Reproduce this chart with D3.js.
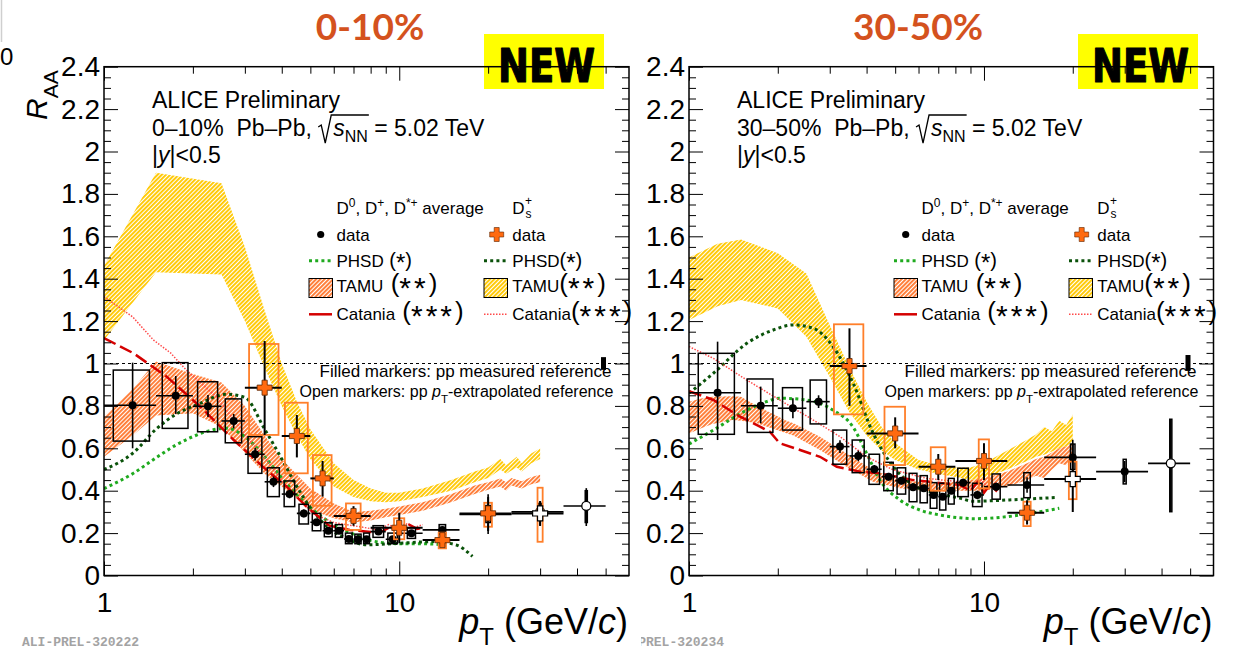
<!DOCTYPE html>
<html>
<head>
<meta charset="utf-8">
<script src="https://cdn.jsdelivr.net/npm/d3@7/dist/d3.min.js"></script>
<style>
  html, body { margin: 0; padding: 0; background: #fff; }
  svg { display: block; }
  text { white-space: pre; }
</style>
</head>
<body>
<script>
// ---------------- data ----------------
const titles = ["0-10%", "30-50%"];
const centralityText = ["0\u201310%", "30\u201350%"];
const preliminaryIds = ["ALI-PREL-320222", "ALI-PREL-320234"];
const yTickValues = [0, 0.2, 0.4, 0.6, 0.8, 1, 1.2, 1.4, 1.6, 1.8, 2, 2.2, 2.4];
const yTickLabels = ["0", "0.2", "0.4", "0.6", "0.8", "1", "1.2", "1.4", "1.6", "1.8", "2", "2.2", "2.4"];
const xTickValues = [1, 10];
const xTickLabels = ["1", "10"];
const xMinorValues = [2, 3, 4, 5, 6, 7, 8, 9, 20, 30, 40, 50];
const xDomain = [1, 60];
const yDomain = [0, 2.4];

// rows: [ptLo, ptHi, R_AA, statLo, statHi, systLo, systHi, openMarker]
const dAvg010 = [
  [1, 1.5, 0.803, 0.60, 1.004, 0.634, 0.969, 0],
  [1.5, 2, 0.848, 0.762, 0.941, 0.694, 1.004, 0],
  [2, 2.5, 0.798, 0.748, 0.851, 0.678, 0.914, 0],
  [2.5, 3, 0.729, 0.694, 0.762, 0.626, 0.833, 0],
  [3, 3.5, 0.572, 0.542, 0.602, 0.482, 0.655, 0],
  [3.5, 4, 0.442, 0.417, 0.467, 0.372, 0.508, 0],
  [4, 4.5, 0.384, 0.364, 0.404, 0.325, 0.446, 0],
  [4.5, 5, 0.293, 0.275, 0.311, 0.243, 0.336, 0],
  [5, 5.5, 0.251, 0.235, 0.267, 0.211, 0.293, 0],
  [5.5, 6, 0.211, 0.197, 0.225, 0.183, 0.249, 0],
  [6, 6.5, 0.211, 0.197, 0.225, 0.18, 0.24, 0],
  [6.5, 7, 0.172, 0.16, 0.184, 0.15, 0.20, 0],
  [7, 7.5, 0.171, 0.16, 0.182, 0.15, 0.195, 0],
  [7.5, 8, 0.171, 0.16, 0.182, 0.15, 0.20, 0],
  [8, 9, 0.207, 0.195, 0.219, 0.18, 0.235, 0],
  [9, 10, 0.171, 0.158, 0.184, 0.15, 0.20, 0],
  [10, 12, 0.199, 0.186, 0.212, 0.175, 0.225, 0],
  [12, 16, 0.215, 0.20, 0.23, 0.195, 0.24, 0],
  [16, 24, 0.288, 0.196, 0.383, 0.25, 0.33, 0],
  [24, 36, 0.30, 0.234, 0.352, 0.26, 0.34, 1],
  [36, 50, 0.328, 0.234, 0.412, 0.25, 0.40, 1]
];
const ds010 = [
  [3, 4, 0.886, 0.663, 1.106, 0.663, 1.092, 0],
  [4, 5, 0.658, 0.557, 0.757, 0.482, 0.815, 0],
  [5, 6, 0.458, 0.372, 0.54, 0.329, 0.568, 0],
  [6, 8, 0.281, 0.235, 0.327, 0.215, 0.34, 0],
  [8, 12, 0.225, 0.152, 0.296, 0.171, 0.27, 0],
  [12, 16, 0.167, 0.135, 0.20, 0.128, 0.202, 0],
  [16, 24, 0.293, 0.21, 0.37, 0.23, 0.343, 0],
  [24, 36, 0.293, 0.235, 0.351, 0.159, 0.414, 1]
];
const dAvg3050 = [
  [1, 1.5, 0.862, 0.639, 1.103, 0.666, 1.048, 0],
  [1.5, 2, 0.801, 0.718, 0.891, 0.675, 0.927, 0],
  [2, 2.5, 0.789, 0.742, 0.836, 0.686, 0.886, 0],
  [2.5, 3, 0.82, 0.79, 0.85, 0.715, 0.922, 0],
  [3, 3.5, 0.608, 0.578, 0.638, 0.525, 0.686, 0],
  [3.5, 4, 0.564, 0.539, 0.589, 0.485, 0.639, 0],
  [4, 4.5, 0.501, 0.481, 0.521, 0.43, 0.572, 0],
  [4.5, 5, 0.466, 0.448, 0.484, 0.40, 0.534, 0],
  [5, 5.5, 0.447, 0.43, 0.464, 0.384, 0.508, 0],
  [5.5, 6, 0.416, 0.40, 0.432, 0.348, 0.482, 0],
  [6, 6.5, 0.411, 0.395, 0.427, 0.343, 0.471, 0],
  [6.5, 7, 0.38, 0.365, 0.395, 0.317, 0.438, 0],
  [7, 7.5, 0.372, 0.357, 0.387, 0.309, 0.435, 0],
  [7.5, 8, 0.40, 0.384, 0.416, 0.337, 0.458, 0],
  [8, 9, 0.438, 0.42, 0.456, 0.372, 0.506, 0],
  [9, 10, 0.38, 0.36, 0.40, 0.325, 0.435, 0],
  [10, 12, 0.419, 0.40, 0.438, 0.36, 0.479, 0],
  [12, 16, 0.427, 0.39, 0.464, 0.367, 0.485, 0],
  [16, 24, 0.557, 0.47, 0.64, 0.50, 0.62, 0],
  [24, 36, 0.49, 0.44, 0.54, 0.432, 0.548, 0],
  [36, 50, 0.529, 0.301, 0.737, 0.301, 0.737, 1]
];
const ds3050 = [
  [3, 4, 0.988, 0.80, 1.166, 0.76, 1.185, 0],
  [4, 6, 0.67, 0.60, 0.746, 0.521, 0.796, 0],
  [6, 8, 0.513, 0.45, 0.573, 0.40, 0.605, 0],
  [8, 12, 0.54, 0.45, 0.624, 0.411, 0.642, 0],
  [12, 16, 0.296, 0.24, 0.355, 0.233, 0.348, 0],
  [16, 24, 0.455, 0.30, 0.62, 0.36, 0.537, 1]
];

// model bands: [pt, low, high]
const tamuD010 = [
  [1.0, 0.56, 0.75], [1.25, 0.66, 0.88], [1.5, 0.755, 1.01], [2.0, 0.765, 0.95], [2.5, 0.70, 0.91],
  [3.0, 0.58, 0.80], [3.5, 0.48, 0.66], [4.0, 0.42, 0.55], [5.0, 0.31, 0.41], [6.0, 0.27, 0.34],
  [7.0, 0.25, 0.30], [8.0, 0.26, 0.305], [9, 0.275, 0.315], [10, 0.285, 0.325], [12, 0.305, 0.345],
  [15, 0.345, 0.385], [18, 0.385, 0.425], [20, 0.405, 0.44], [22, 0.42, 0.458], [23, 0.40, 0.44],
  [24, 0.425, 0.46], [26, 0.41, 0.445], [28, 0.43, 0.465], [30, 0.44, 0.475]
];
const tamuDs010 = [
  [1.0, 1.11, 1.46], [1.5, 1.43, 1.90], [2.5, 1.42, 1.85], [3.0, 1.20, 1.55], [3.5, 0.98, 1.25],
  [4.0, 0.80, 1.0], [4.5, 0.66, 0.82], [5.0, 0.55, 0.69], [6.0, 0.42, 0.53], [7.0, 0.37, 0.45],
  [8.0, 0.35, 0.41], [9, 0.345, 0.39], [10, 0.35, 0.39], [12, 0.37, 0.41], [15, 0.40, 0.45],
  [18, 0.44, 0.49], [20, 0.46, 0.51], [22, 0.50, 0.55], [23, 0.48, 0.52], [25, 0.51, 0.56],
  [26, 0.49, 0.53], [28, 0.53, 0.575], [30, 0.55, 0.60]
];
const tamuD3050 = [
  [1.0, 0.67, 0.82], [1.1, 0.695, 0.835], [1.2, 0.715, 0.843], [1.4, 0.733, 0.845], [1.5, 0.73, 0.843],
  [1.7, 0.718, 0.80], [2.14, 0.671, 0.73], [2.26, 0.66, 0.718], [2.78, 0.592, 0.655], [3.42, 0.513, 0.576],
  [4.21, 0.442, 0.498], [5.19, 0.411, 0.45], [6.72, 0.395, 0.435], [8.27, 0.40, 0.442], [10, 0.40, 0.46],
  [12, 0.42, 0.49], [14, 0.45, 0.53], [15, 0.47, 0.55], [16, 0.46, 0.56], [17, 0.50, 0.58],
  [18, 0.53, 0.60], [19, 0.52, 0.61], [20, 0.55, 0.62]
];
const tamuDs3050 = [
  [1.0, 1.205, 1.50], [1.25, 1.27, 1.565], [1.5, 1.30, 1.585], [2.0, 1.26, 1.52], [2.5, 1.126, 1.425],
  [3.0, 0.938, 1.18], [3.5, 0.77, 0.98], [4.0, 0.66, 0.82], [4.5, 0.59, 0.70], [5.0, 0.545, 0.625],
  [6.0, 0.50, 0.545], [7.0, 0.48, 0.52], [8.0, 0.465, 0.51], [9, 0.45, 0.51], [10, 0.46, 0.53],
  [12, 0.50, 0.59], [14, 0.54, 0.64], [15, 0.56, 0.665], [16, 0.57, 0.70], [17, 0.585, 0.68],
  [18, 0.60, 0.73], [19, 0.61, 0.71], [20, 0.625, 0.76]
];

// model curves: [pt, R_AA]
const phsdD010 = [
  [1.0, 0.41], [1.25, 0.48], [1.5, 0.555], [1.75, 0.615], [2.0, 0.655], [2.3, 0.685], [2.6, 0.695],
  [3.0, 0.655], [3.5, 0.56], [4.0, 0.46], [4.5, 0.38], [5.0, 0.32], [6.0, 0.24], [7.0, 0.195],
  [8.0, 0.165], [10, 0.15], [12, 0.15], [14, 0.145]
];
const phsdDs010 = [
  [1.0, 0.50], [1.25, 0.576], [1.5, 0.69], [1.75, 0.76], [2.1, 0.81], [2.6, 0.855], [3.0, 0.84],
  [3.5, 0.69], [4.0, 0.55], [4.5, 0.42], [5.0, 0.32], [5.7, 0.23], [6.5, 0.18], [7.75, 0.145],
  [10, 0.152], [13, 0.16], [15.6, 0.144], [17.7, 0.09]
];
const catD010 = [
  [1.0, 1.12], [1.26, 1.048], [1.63, 0.938], [2.12, 0.796], [2.75, 0.639], [3.55, 0.498], [4.16, 0.419],
  [4.85, 0.325], [5.8, 0.235], [6.8, 0.215], [8.0, 0.205], [8.8, 0.21], [9.5, 0.235], [10, 0.215],
  [10.8, 0.24], [11.5, 0.22], [12, 0.225]
];
const catDs010 = [
  [1.0, 1.315], [1.25, 1.22], [1.47, 1.111], [1.68, 1.05], [1.9, 0.969], [2.4, 0.843], [3.04, 0.655],
  [3.55, 0.545], [4.15, 0.419], [5.1, 0.293], [6.0, 0.25], [7.35, 0.23], [8.5, 0.215], [9.2, 0.24],
  [9.8, 0.22], [10.5, 0.245], [11.2, 0.225], [12, 0.24]
];
const phsdD3050 = [
  [1.0, 0.62], [1.21, 0.686], [1.57, 0.78], [1.83, 0.82], [2.03, 0.836], [2.5, 0.828], [3.08, 0.78],
  [3.6, 0.70], [4.0, 0.576], [4.44, 0.45], [5.19, 0.356], [6.06, 0.309], [7.1, 0.285], [8.27, 0.272],
  [9.22, 0.268], [11.9, 0.277], [15.5, 0.301], [18, 0.317]
];
const phsdDs3050 = [
  [1.0, 0.86], [1.21, 0.954], [1.57, 1.095], [1.93, 1.158], [2.26, 1.182], [2.64, 1.166], [3.08, 1.079],
  [3.6, 0.907], [4.21, 0.671], [4.93, 0.513], [5.76, 0.427], [7.1, 0.385], [8.27, 0.365], [9.22, 0.35],
  [11.9, 0.356], [15.5, 0.364], [17.7, 0.368]
];
const catD3050 = [
  [1.0, 0.87], [1.21, 0.828], [1.49, 0.749], [1.74, 0.702], [1.88, 0.678], [2.03, 0.624], [2.38, 0.592],
  [2.78, 0.56], [3.17, 0.513], [3.8, 0.49], [4.44, 0.482], [5.76, 0.45], [8.27, 0.427], [9.0, 0.40],
  [9.5, 0.44], [10, 0.39], [10.5, 0.43], [11, 0.40], [11.3, 0.42]
];
const catDs3050 = [
  [1.0, 1.08], [1.21, 1.024], [1.57, 0.922], [2.03, 0.828], [2.64, 0.733], [3.25, 0.655], [4.0, 0.56],
  [4.93, 0.498], [6.4, 0.458], [8.27, 0.442], [9.2, 0.42], [9.8, 0.45], [10.4, 0.41], [11, 0.44]
];

// global normalisation uncertainty around unity: [low, high]
const norm010 = [0.97, 1.03];
const norm3050 = [0.965, 1.04];

// ---------------- drawing ----------------
const FONT = "'Liberation Sans', Arial, Helvetica, sans-serif";
const C = {
  title: "#d4521e", orangeHatch: "#ff7a33", yellowHatch: "#ffc800",
  dsFill: "#ff6a10", dsBox: "#ff7f2a", phsdD: "#1faa1f", phsdDs: "#0a520a",
  catD: "#d40000", catDs: "#ff4a4a"
};

const svg = d3.select("body").append("svg").attr("width", 1235).attr("height", 649);
svg.append("rect").attr("width", 1235).attr("height", 649).attr("fill", "#fff");
const defs = svg.append("defs");

function hatch(id, color) {
  const p = defs.append("pattern").attr("id", id).attr("patternUnits", "userSpaceOnUse")
    .attr("width", 3).attr("height", 3).attr("patternTransform", "rotate(45)");
  p.append("rect").attr("width", 1.9).attr("height", 3).attr("fill", color);
}
hatch("hatchOrange", C.orangeHatch);
hatch("hatchYellow", C.yellowHatch);

function rich(g, x, y, runs, anchor) {
  const t = g.append("text").attr("x", x).attr("y", y).attr("font-family", FONT).attr("fill", "#000");
  if (anchor) t.attr("text-anchor", anchor);
  let shift = 0;
  runs.forEach(r => {
    const s = t.append("tspan").text(r.t).attr("font-size", r.size);
    const target = r.sh || 0;
    if (target !== shift) { s.attr("dy", target - shift); shift = target; }
    if (r.it) s.attr("font-style", "italic");
    if (r.fam) s.attr("font-family", r.fam);
    if (r.dx) s.attr("dx", r.dx);
    if (r.ls) s.attr("letter-spacing", r.ls);
  });
  return t;
}

function crossPath(a, t) {
  return `M${-t},${-a}H${t}V${-t}H${a}V${t}H${t}V${a}H${-t}V${t}H${-a}V${-t}H${-t}Z`;
}

// stray edge of the neighbouring slide
svg.append("line").attr("x1", 1.5).attr("x2", 1.5).attr("y1", 0).attr("y2", 42)
  .attr("stroke", "#cfcfcf").attr("stroke-width", 1.5);
svg.append("text").attr("x", 0).attr("y", 65).attr("font-family", FONT).attr("font-size", 24).text("0");

const panels = [
  { x0: 104, x1: 629, titleX: 370, newX: 484, idX: 22, clipId: null,
    title: titles[0], cent: centralityText[0], pid: preliminaryIds[0],
    d: dAvg010, ds: ds010, bandD: tamuD010, bandDs: tamuDs010,
    phsdD: phsdD010, phsdDs: phsdDs010, catD: catD010, catDs: catDs010, norm: norm010, yTitle: true },
  { x0: 689, x1: 1213.5, titleX: 918, newX: 1078, idX: 607, clipId: "idClip",
    title: titles[1], cent: centralityText[1], pid: preliminaryIds[1],
    d: dAvg3050, ds: ds3050, bandD: tamuD3050, bandDs: tamuDs3050,
    phsdD: phsdD3050, phsdDs: phsdDs3050, catD: catD3050, catDs: catDs3050, norm: norm3050, yTitle: false }
];

defs.append("clipPath").attr("id", "idClip").append("rect")
  .attr("x", 641).attr("y", 600).attr("width", 600).attr("height", 60);

const yTop = 66.7, yBot = 575.5;

panels.forEach((p, pi) => {
  const g = svg.append("g");
  const x = d3.scaleLog().domain(xDomain).range([p.x0, p.x1]);
  const y = d3.scaleLinear().domain(yDomain).range([yBot, yTop]);

  const clipName = "frameClip" + pi;
  defs.append("clipPath").attr("id", clipName).append("rect")
    .attr("x", p.x0).attr("y", yTop).attr("width", p.x1 - p.x0).attr("height", yBot - yTop);
  const plot = g.append("g").attr("clip-path", `url(#${clipName})`);

  // title and badge
  g.append("text").attr("x", p.titleX).attr("y", 40).attr("text-anchor", "middle")
    .attr("font-family", "Lato, 'Open Sans', sans-serif").attr("font-weight", 700)
    .attr("font-size", 37).attr("fill", C.title).text(p.title);
  g.append("rect").attr("x", p.newX).attr("y", 34).attr("width", 120).attr("height", 55).attr("fill", "#ffff00");
  g.append("text").attr("x", p.newX + 14).attr("y", 82)
    .attr("font-family", "'DejaVu Sans', sans-serif").attr("font-weight", 700).attr("font-size", 46)
    .attr("textLength", 97).attr("lengthAdjust", "spacingAndGlyphs")
    .attr("stroke", "#000").attr("stroke-width", 1.2).attr("stroke-linejoin", "round")
    .attr("fill", "#000").text("NEW");

  // model bands
  const area = d3.area().x(d => x(d[0])).y0(d => y(d[1])).y1(d => y(d[2]));
  plot.append("path").datum(p.bandD).attr("d", area).attr("fill", "url(#hatchOrange)");
  plot.append("path").datum(p.bandDs).attr("d", area).attr("fill", "url(#hatchYellow)");

  // model curves
  const smooth = d3.line().x(d => x(d[0])).y(d => y(d[1])).curve(d3.curveMonotoneX);
  const straight = d3.line().x(d => x(d[0])).y(d => y(d[1]));
  plot.append("path").datum(p.phsdD).attr("d", smooth).attr("fill", "none")
    .attr("stroke", C.phsdD).attr("stroke-width", 3).attr("stroke-dasharray", "3 3.2");
  plot.append("path").datum(p.phsdDs).attr("d", smooth).attr("fill", "none")
    .attr("stroke", C.phsdDs).attr("stroke-width", 3).attr("stroke-dasharray", "3 3.2");
  plot.append("path").datum(p.catDs).attr("d", straight).attr("fill", "none")
    .attr("stroke", C.catDs).attr("stroke-width", 1.5).attr("stroke-dasharray", "1.5 1.5");
  plot.append("path").datum(p.catD).attr("d", straight).attr("fill", "none")
    .attr("stroke", C.catD).attr("stroke-width", 2.5).attr("stroke-dasharray", "13 5");

  // unity reference
  g.append("line").attr("x1", p.x0).attr("x2", p.x1).attr("y1", y(1)).attr("y2", y(1))
    .attr("stroke", "#000").attr("stroke-width", 1).attr("stroke-dasharray", "3 3");
  g.append("rect").attr("x", p.x1 - 28).attr("y", y(p.norm[1])).attr("width", 5)
    .attr("height", y(p.norm[0]) - y(p.norm[1])).attr("fill", "#000");

  // D-meson average and Ds data
  const dHalf = r => Math.min(0.35 * (r[1] - r[0]), 0.35);
  const dsHalf = r => (r[1] - r[0]) >= 8 ? 0.6 : 0.4;
  const mid = r => (r[0] + r[1]) / 2;

  const dg = plot.append("g");
  p.d.forEach(r => {
    const c = mid(r), h = dHalf(r);
    dg.append("rect").attr("x", x(c - h)).attr("y", y(r[6]))
      .attr("width", x(c + h) - x(c - h)).attr("height", y(r[5]) - y(r[6]))
      .attr("fill", "none").attr("stroke", "#000").attr("stroke-width", 1.5);
  });
  const dsg = plot.append("g");
  p.ds.forEach(r => {
    const c = mid(r), h = dsHalf(r);
    dsg.append("rect").attr("x", x(c - h)).attr("y", y(r[6]))
      .attr("width", x(c + h) - x(c - h)).attr("height", y(r[5]) - y(r[6]))
      .attr("fill", "none").attr("stroke", C.dsBox).attr("stroke-width", 1.8);
  });
  p.d.forEach(r => {
    const c = mid(r);
    dg.append("line").attr("x1", x(c)).attr("x2", x(c)).attr("y1", y(r[3])).attr("y2", y(r[4]))
      .attr("stroke", "#000").attr("stroke-width", 1.6);
    dg.append("line").attr("x1", x(r[0])).attr("x2", x(r[1])).attr("y1", y(r[2])).attr("y2", y(r[2]))
      .attr("stroke", "#000").attr("stroke-width", 1.6);
    dg.append("circle").attr("cx", x(c)).attr("cy", y(r[2])).attr("r", r[7] ? 4.5 : 4)
      .attr("fill", r[7] ? "#fff" : "#000").attr("stroke", "#000").attr("stroke-width", r[7] ? 1.3 : 0);
  });
  p.ds.forEach(r => {
    const c = mid(r);
    dsg.append("line").attr("x1", x(c)).attr("x2", x(c)).attr("y1", y(r[3])).attr("y2", y(r[4]))
      .attr("stroke", "#000").attr("stroke-width", 2);
    dsg.append("line").attr("x1", x(r[0])).attr("x2", x(r[1])).attr("y1", y(r[2])).attr("y2", y(r[2]))
      .attr("stroke", "#000").attr("stroke-width", 2);
    dsg.append("path").attr("d", crossPath(7.5, 2.6))
      .attr("transform", `translate(${x(c)},${y(r[2])})`)
      .attr("fill", r[7] ? "#fff" : C.dsFill).attr("stroke", r[7] ? "#000" : "#5a2400")
      .attr("stroke-width", r[7] ? 1.2 : 0.8);
  });

  // axes: major and minor ticks on all four sides
  const styleAxis = a => a.attr("font-family", FONT).attr("font-size", 28)
    .call(s => s.select(".domain").remove())
    .call(s => s.selectAll("line").attr("stroke", "#000"))
    .call(s => s.selectAll("text").attr("fill", "#000"));
  const yMinor = d3.range(0, 49).map(i => i * 0.05).filter(v => Math.abs(v / 0.2 - Math.round(v / 0.2)) > 1e-6);
  g.append("g").attr("transform", `translate(${p.x0},0)`)
    .call(d3.axisLeft(y).tickValues(yTickValues).tickSize(-14).tickPadding(4)
      .tickFormat((d, i) => yTickLabels[i])).call(styleAxis);
  g.append("g").attr("transform", `translate(${p.x0},0)`)
    .call(d3.axisLeft(y).tickValues(yMinor).tickSize(-7).tickFormat(() => "")).call(styleAxis);
  g.append("g").attr("transform", `translate(${p.x1},0)`)
    .call(d3.axisRight(y).tickValues(yTickValues).tickSize(-14).tickFormat(() => "")).call(styleAxis);
  g.append("g").attr("transform", `translate(${p.x1},0)`)
    .call(d3.axisRight(y).tickValues(yMinor).tickSize(-7).tickFormat(() => "")).call(styleAxis);
  g.append("g").attr("transform", `translate(0,${yBot})`)
    .call(d3.axisBottom(x).tickValues(xTickValues).tickSize(-14).tickPadding(17)
      .tickFormat((d, i) => xTickLabels[i])).call(styleAxis);
  g.append("g").attr("transform", `translate(0,${yBot})`)
    .call(d3.axisBottom(x).tickValues(xMinorValues).tickSize(-7).tickFormat(() => "")).call(styleAxis);
  g.append("g").attr("transform", `translate(0,${yTop})`)
    .call(d3.axisTop(x).tickValues(xTickValues).tickSize(-14).tickFormat(() => "")).call(styleAxis);
  g.append("g").attr("transform", `translate(0,${yTop})`)
    .call(d3.axisTop(x).tickValues(xMinorValues).tickSize(-7).tickFormat(() => "")).call(styleAxis);
  g.append("rect").attr("x", p.x0).attr("y", yTop).attr("width", p.x1 - p.x0).attr("height", yBot - yTop)
    .attr("fill", "none").attr("stroke", "#000").attr("stroke-width", 1.5);

  // axis titles
  rich(g, p.x1 - 1, 634, [
    { t: "p", size: 36, it: true }, { t: "T", size: 24, sh: 11 },
    { t: " (GeV/", size: 36, sh: 0 }, { t: "c", size: 36, it: true }, { t: ")", size: 36 }
  ], "end");
  if (p.yTitle) {
    const yt = g.append("g").attr("transform", "translate(47,120) rotate(-90)");
    rich(yt, 0, 0, [{ t: "R", size: 30, it: true }, { t: "AA", size: 21, sh: 11 }]);
  }

  // header text
  const tx = p.x0 + 48;
  rich(g, tx, 108, [{ t: "ALICE Preliminary", size: 23 }]);
  const line2 = p.cent + "  Pb\u2013Pb, ";
  const t2 = rich(g, tx, 136, [
    { t: line2, size: 23 }, { t: "s", size: 23, it: true, dx: 15 },
    { t: "NN", size: 16, sh: 6 }, { t: " = 5.02 TeV", size: 23, sh: 0 }
  ]);
  const n2 = t2.node();
  const xs = n2.getStartPositionOfChar(line2.length).x;
  const xe = n2.getEndPositionOfChar(line2.length + 2).x;
  g.append("path").attr("d", `M${xs - 15},127 L${xs - 12},125 L${xs - 8},143 L${xs - 2},115 L${xe + 1},115`)
    .attr("fill", "none").attr("stroke", "#000").attr("stroke-width", 1.3);
  rich(g, tx, 163, [{ t: "|", size: 23 }, { t: "y", size: 23, it: true }, { t: "|<0.5", size: 23 }]);

  // legend
  const c1 = p.x0 + 232.5, c2 = p.x0 + 408.3;
  rich(g, c1, 214, [
    { t: "D", size: 17 }, { t: "0", size: 12, sh: -7 }, { t: ", D", size: 17, sh: 0 },
    { t: "+", size: 12, sh: -7 }, { t: ", D", size: 17, sh: 0 }, { t: "*+", size: 12, sh: -7 },
    { t: " average", size: 17, sh: 0 }
  ]);
  const dsH = rich(g, c2, 214, [{ t: "D", size: 17 }]);
  const dw = dsH.node().getComputedTextLength();
  g.append("text").attr("x", c2 + dw + 0.5).attr("y", 205).attr("font-family", FONT).attr("font-size", 12).text("+");
  g.append("text").attr("x", c2 + dw + 1).attr("y", 218).attr("font-family", FONT).attr("font-size", 12).text("s");

  const rows = [240.7, 266.5, 292, 320];
  rich(g, c1, rows[0], [{ t: "data", size: 17 }]);
  rich(g, c2, rows[0], [{ t: "data", size: 17 }]);
  g.append("circle").attr("cx", p.x0 + 216.7).attr("cy", 234.5).attr("r", 3.6).attr("fill", "#000");
  g.append("path").attr("d", crossPath(7, 2.5)).attr("transform", `translate(${p.x0 + 392.7},234.5)`)
    .attr("fill", C.dsFill).attr("stroke", "#5a2400").attr("stroke-width", 0.6);

  const star1 = (lbl, gap) => [{ t: lbl, size: 17 }, { t: gap + "(", size: 20 }, { t: "*", size: 24, sh: 4 }, { t: ")", size: 20, sh: 0 }];
  const star2 = (lbl, gap, n) => [{ t: lbl, size: 17 }, { t: gap + "(", size: 26 }, { t: "*".repeat(n), size: 30, sh: 6, ls: 3 }, { t: ")", size: 26, sh: 0 }];
  rich(g, c1, rows[1], star1("PHSD", " "));
  rich(g, c2, rows[1], star1("PHSD", ""));
  rich(g, c1, rows[2], star2("TAMU", " ", 2));
  rich(g, c2, rows[2], star2("TAMU", "", 2));
  rich(g, c1, rows[3], star2("Catania", " ", 3));
  rich(g, c2, rows[3], star2("Catania", "", 3));

  g.append("line").attr("x1", p.x0 + 205).attr("x2", p.x0 + 228).attr("y1", 260.7).attr("y2", 260.7)
    .attr("stroke", C.phsdD).attr("stroke-width", 3).attr("stroke-dasharray", "3 3.2");
  g.append("line").attr("x1", p.x0 + 380).attr("x2", p.x0 + 403).attr("y1", 260.7).attr("y2", 260.7)
    .attr("stroke", C.phsdDs).attr("stroke-width", 3).attr("stroke-dasharray", "3 3.2");
  g.append("rect").attr("x", p.x0 + 205).attr("y", 278.5).attr("width", 23.5).attr("height", 19)
    .attr("fill", "url(#hatchOrange)").attr("stroke", "#000").attr("stroke-width", 1);
  g.append("rect").attr("x", p.x0 + 380).attr("y", 278.5).attr("width", 23.5).attr("height", 19)
    .attr("fill", "url(#hatchYellow)").attr("stroke", "#000").attr("stroke-width", 1);
  g.append("line").attr("x1", p.x0 + 205).attr("x2", p.x0 + 228).attr("y1", 314.3).attr("y2", 314.3)
    .attr("stroke", C.catD).attr("stroke-width", 2.5);
  g.append("line").attr("x1", p.x0 + 380).attr("x2", p.x0 + 403).attr("y1", 314.3).attr("y2", 314.3)
    .attr("stroke", C.catDs).attr("stroke-width", 1.5).attr("stroke-dasharray", "1.5 1.5");

  // reference notes
  rich(g, p.x0 + 215.5, 376.7, [{ t: "Filled markers: pp measured reference", size: 17 }]);
  rich(g, p.x0 + 195.5, 396.7, [
    { t: "Open markers: pp ", size: 16 }, { t: "p", size: 16, it: true },
    { t: "T", size: 11.5, sh: 6 }, { t: "-extrapolated reference", size: 16, sh: 0 }
  ]);

  // preliminary id
  const idT = svg.append("text").attr("x", p.idX).attr("y", 646)
    .attr("font-family", "'Liberation Mono', 'DejaVu Sans Mono', monospace").attr("font-weight", 700)
    .attr("font-size", 13).attr("fill", "#a3a3a3").text(p.pid);
  if (p.clipId) idT.attr("clip-path", `url(#${p.clipId})`);
});
</script>
</body>
</html>
